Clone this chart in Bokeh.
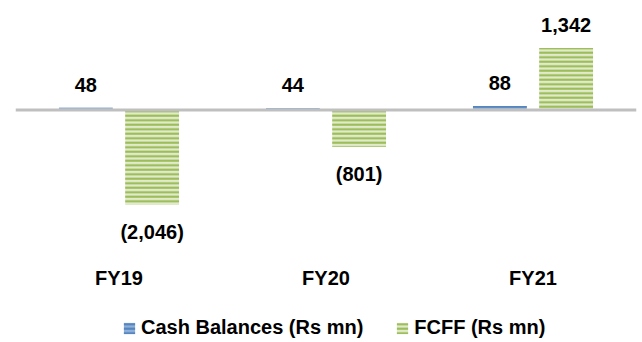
from bokeh.plotting import figure
from bokeh.models import (ColumnDataSource, FactorRange, Range1d, Span, LabelSet,
                          Legend, LegendItem)
from bokeh.transform import dodge
from bokeh.core.properties import value
from bokeh.embed import file_html
from bokeh.resources import INLINE

# ---- data ----
categories = ["FY19", "FY20", "FY21"]
cash_balances = [48, 44, 88]
fcff = [-2046, -801, 1342]
series_names = ["Cash Balances (Rs mn)", "FCFF (Rs mn)"]

# ---- layout constants ----
W, H = 642, 342
LEFT, RIGHT = 15, 6
ZERO_PX = 109.5          # pixel row of the zero line
PX_PER_UNIT = 0.0462
Y_TOP = ZERO_PX / PX_PER_UNIT
Y_BOTTOM = -(H - ZERO_PX) / PX_PER_UNIT
FONT = "Liberation Sans"
FS = "20px"


def fmt(v):
    s = f"{abs(v):,}"
    return f"({s})" if v < 0 else s


def px_to_y(py):
    return Y_TOP - py / PX_PER_UNIT


src = ColumnDataSource(dict(
    cat=categories,
    cash=cash_balances,
    fcff=fcff,
    cash_lbl=[fmt(v) for v in cash_balances],
    fcff_lbl=[fmt(v) for v in fcff],
    cash_off=[23 if v >= 0 else -27 for v in cash_balances],
    fcff_off=[23 if v >= 0 else -27 for v in fcff],
    lbl_y=[px_to_y(277)] * len(categories),
))

p = figure(width=W, height=H, x_range=FactorRange(*categories, range_padding=0),
           y_range=Range1d(Y_BOTTOM, Y_TOP), output_backend="svg",
           toolbar_location=None, min_border_left=LEFT, min_border_right=RIGHT,
           min_border_top=0, min_border_bottom=0, x_axis_location=None,
           y_axis_location=None, outline_line_color=None)
p.xgrid.visible = False
p.ygrid.visible = False
p.background_fill_color = "white"
p.border_fill_color = "white"

BW = 0.26
OFF = 0.16
r_cash = p.vbar(x=dodge("cat", -OFF, range=p.x_range), top="cash", bottom=0, width=BW,
                source=src, fill_color="#8FB0D8", line_color=None,
                hatch_pattern="horizontal_line", hatch_color="#4F81BD",
                hatch_scale=4.5, hatch_weight=2)
r_fcff = p.vbar(x=dodge("cat", OFF, range=p.x_range), top="fcff", bottom=0, width=BW,
                source=src, fill_color="#E1EBCB", line_color=None,
                hatch_pattern="horizontal_line", hatch_color="#96B950",
                hatch_scale=4.5, hatch_weight=2)

p.add_layout(Span(location=0, dimension="width", line_color="#BFBFBF", line_width=3))

common = dict(text_font=value(FONT), text_font_style="bold", text_font_size=FS,
              text_color="#000000", text_align="center", text_baseline="middle")
p.add_layout(LabelSet(x=dodge("cat", -OFF, range=p.x_range), y="cash", text="cash_lbl",
                      y_offset="cash_off", source=src, **common))
p.add_layout(LabelSet(x=dodge("cat", OFF, range=p.x_range), y="fcff", text="fcff_lbl",
                      y_offset="fcff_off", source=src, **common))
p.add_layout(LabelSet(x="cat", y="lbl_y", text="cat", source=src, **common))

legend = Legend(items=[LegendItem(label=series_names[0], renderers=[r_cash]),
                       LegendItem(label=series_names[1], renderers=[r_fcff])],
                orientation="horizontal", location=(107, 3),
                glyph_width=14, glyph_height=14, label_standoff=5, spacing=32,
                padding=0, margin=0, background_fill_alpha=0, border_line_color=None,
                label_text_font=FONT, label_text_font_style="bold",
                label_text_font_size=FS, label_text_color="#000000")
p.add_layout(legend)

open("out.html", "w").write(file_html(p, INLINE))
